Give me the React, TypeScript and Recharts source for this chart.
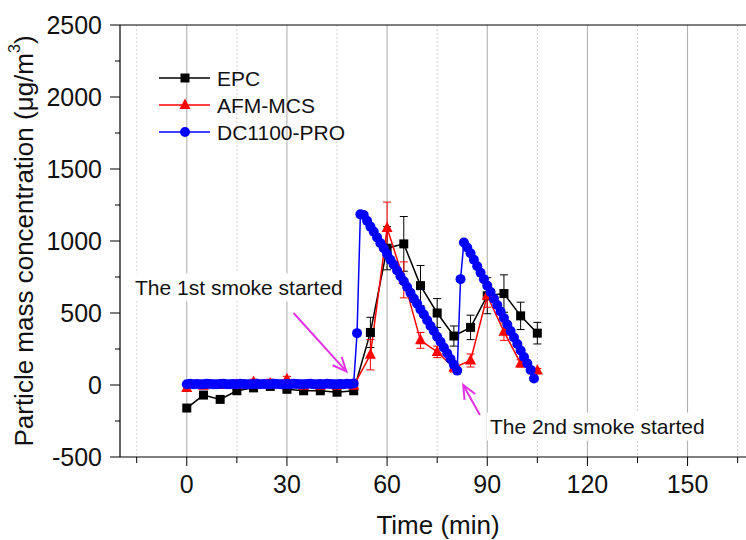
import { LineChart, Line, XAxis, YAxis, CartesianGrid, ErrorBar, ReferenceLine, ReferenceDot } from 'recharts';

// sampling times (min) for the EPC / AFM-MCS series
const TIME = [0, 5, 10, 15, 20, 25, 30, 35, 40, 45, 50, 55, 60, 65, 70, 75, 80, 85, 90, 95, 100, 105];
const EPC = [-160, -70, -100, -40, -20, -10, -30, -40, -40, -50, -40, 365, 950, 980, 690, 500, 340, 400, 620, 635, 480, 360];
const EPC_ERR = [20, 10, 10, 10, 10, 10, 10, 10, 10, 10, 10, 105, 150, 190, 140, 100, 70, 85, 125, 130, 95, 75];
const AFM = [-20, -5, 0, 0, 20, 10, 40, -5, -5, -5, -5, 210, 1090, 730, 310, 230, 120, 170, 620, 370, 150, 100];
const AFM_ERR = [20, 20, 20, 20, 20, 30, 20, 20, 20, 20, 20, 105, 180, 125, 55, 40, 30, 45, 80, 60, 25, 15];
// DC1100-PRO logs once a minute from t = 0
const DC1100 = [
  5, 8, 6, 7, 5, 6, 8, 7, 6, 5,
  7, 8, 6, 5, 7, 6, 8, 7, 5, 6,
  7, 8, 6, 7, 5, 6, 8, 7, 6, 5,
  7, 6, 8, 7, 5, 6, 7, 8, 6, 5,
  7, 6, 8, 7, 5, 6, 7, 6, 8, 7,
  10, 360, 1185, 1180, 1140, 1100, 1065, 1025, 985, 950,
  910, 870, 835, 795, 755, 720, 680, 640, 600, 565,
  525, 490, 450, 410, 375, 335, 300, 260, 220, 180,
  140, 100, 735, 990, 955, 915, 870, 825, 780, 735,
  690, 645, 600, 555, 510, 465, 420, 375, 330, 285,
  240, 195, 150, 105, 45,
];

const X_DOMAIN = [-20, 167.5];
const X_TICKS = [-15, 0, 15, 30, 45, 60, 75, 90, 105, 120, 135, 150, 165];
const X_MAJOR = [0, 30, 60, 90, 120, 150];
const X_MINOR = [-15, 15, 45, 75, 105, 135, 165];
const Y_TICKS = [-500, -250, 0, 250, 500, 750, 1000, 1250, 1500, 1750, 2000, 2250, 2500];

const epcData = TIME.map((t, i) => ({ t, v: EPC[i], err: EPC_ERR[i] }));
const afmData = TIME.map((t, i) => ({ t, v: AFM[i], err: AFM_ERR[i] }));
const dcData = DC1100.map((v, i) => ({ t: i, v }));

const FONT = '"Liberation Sans", Arial, sans-serif';
const MAGENTA = '#e233e2';

// grid lines at given x values, mapped over the plot area
const gridAt = (values: number[]) => ({ offset }: any) =>
  values.map((v) => offset.left + ((v - X_DOMAIN[0]) / (X_DOMAIN[1] - X_DOMAIN[0])) * offset.width);

const XTick = ({ x, y, payload, labels }: any) => {
  const major = payload.value % 30 === 0;
  return (
    <g>
      <line x1={x} x2={x} y1={y} y2={y + (major ? 9 : 6)} stroke="#000" />
      {labels && major && (
        <text x={x} y={y + 27} textAnchor="middle" dominantBaseline="central" fontSize={25} fontFamily={FONT} fill="#111">
          {payload.value}
        </text>
      )}
    </g>
  );
};

const YTick = ({ x, y, payload }: any) => {
  const major = payload.value % 500 === 0;
  return (
    <g>
      <line x1={x - (major ? 10 : 5)} x2={x} y1={y} y2={y} stroke="#000" />
      {major && (
        <text x={x - 18} y={y} textAnchor="end" dominantBaseline="central" fontSize={25} fontFamily={FONT} fill="#111">
          {payload.value}
        </text>
      )}
    </g>
  );
};

const Square = ({ cx, cy, index }: any) =>
  cx == null ? null : <rect key={index} x={cx - 4.5} y={cy - 4.5} width={9} height={9} fill="#000" />;
const Triangle = ({ cx, cy, index }: any) =>
  cx == null ? null : <polygon key={index} points={`${cx},${cy - 6.5} ${cx - 5.5},${cy + 4} ${cx + 5.5},${cy + 4}`} fill="#ff0000" />;
const Circle = ({ cx, cy, index }: any) =>
  cx == null ? null : <circle key={index} cx={cx} cy={cy} r={5} fill="#0000ff" />;

const Arrow = ({ x1, y1, x2, y2 }: any) => {
  const a = Math.atan2(y2 - y1, x2 - x1);
  const L = 15;
  const s = 0.42;
  const p1 = `${x2 - L * Math.cos(a - s)},${y2 - L * Math.sin(a - s)}`;
  const p2 = `${x2 - L * Math.cos(a + s)},${y2 - L * Math.sin(a + s)}`;
  return (
    <g>
      <line x1={x1} y1={y1} x2={x2} y2={y2} stroke={MAGENTA} strokeWidth={2} />
      <polyline points={`${p1} ${x2},${y2} ${p2}`} fill="none" stroke={MAGENTA} strokeWidth={2} />
    </g>
  );
};

const Note = ({ cx, cy, text, w }: any) => (
  <g>
    <rect x={cx - 3} y={cy - 14} width={w} height={28} fill="#fff" />
    <text x={cx} y={cy} dominantBaseline="central" fontSize={21} fontFamily={FONT} fill="#111">
      {text}
    </text>
  </g>
);

const LEGEND = [
  { name: 'EPC', color: '#000', marker: 'square' },
  { name: 'AFM-MCS', color: '#ff0000', marker: 'triangle' },
  { name: 'DC1100-PRO', color: '#0000ff', marker: 'circle' },
];

function LegendBox() {
  return (
    <svg width={240} height={100} style={{ position: 'absolute', left: 150, top: 60, pointerEvents: 'none' }}>
      {LEGEND.map((s, i) => {
        const y = 18 + i * 27;
        const cx = 35;
        return (
          <g key={s.name}>
            <line x1={9} x2={60} y1={y} y2={y} stroke={s.color} strokeWidth={1.5} />
            {s.marker === 'square' && <rect x={cx - 4.5} y={y - 4.5} width={9} height={9} fill={s.color} />}
            {s.marker === 'triangle' && <polygon points={`${cx},${y - 6.5} ${cx - 5.5},${y + 4} ${cx + 5.5},${y + 4}`} fill={s.color} />}
            {s.marker === 'circle' && <circle cx={cx} cy={y} r={5} fill={s.color} />}
            <text x={67} y={y} dominantBaseline="central" fontSize={21} fontFamily={FONT} fill="#111">
              {s.name}
            </text>
          </g>
        );
      })}
    </svg>
  );
}

export default function App() {
  return (
    <div style={{ position: 'absolute', left: 0, top: 0, width: 746, height: 540, background: '#fff' }}>
      <LineChart width={746} height={540} margin={{ top: 24, right: 0, bottom: 0, left: 0 }}>
        <CartesianGrid horizontal={false} stroke="#d2d2d2" strokeDasharray="2 2" verticalCoordinatesGenerator={gridAt(X_MINOR)} />
        <CartesianGrid horizontal={false} stroke="#aaaaaa" verticalCoordinatesGenerator={gridAt(X_MAJOR)} />
        <XAxis
          dataKey="t"
          type="number"
          domain={X_DOMAIN}
          allowDataOverflow
          ticks={X_TICKS}
          interval={0}
          tickSize={0}
          tickMargin={0}
          tickLine={false}
          tick={<XTick labels />}
          height={83}
          axisLine={{ stroke: '#000', strokeWidth: 1.2 }}
          label={{
            content: ({ viewBox }: any) => (
              <text x={viewBox.x + viewBox.width / 2 + 5} y={525} textAnchor="middle" dominantBaseline="central" fontSize={26} fontFamily={FONT} fill="#111">
                Time (min)
              </text>
            ),
          }}
        />
        <XAxis
          xAxisId="top"
          orientation="top"
          type="number"
          domain={X_DOMAIN}
          allowDataOverflow
          ticks={X_TICKS}
          interval={0}
          tickSize={0}
          tickMargin={0}
          tickLine={false}
          tick={<XTick />}
          height={1}
          axisLine={{ stroke: '#000', strokeWidth: 1.2 }}
        />
        <YAxis
          type="number"
          domain={[-500, 2500]}
          allowDataOverflow
          ticks={Y_TICKS}
          interval={0}
          tickSize={0}
          tickMargin={0}
          tickLine={false}
          tick={<YTick />}
          width={120}
          axisLine={{ stroke: '#000', strokeWidth: 1.2 }}
          label={{
            content: ({ viewBox }: any) => {
              const x = viewBox.x + 24;
              const y = viewBox.y + viewBox.height / 2;
              return (
                <text x={x} y={y} transform={`rotate(-90 ${x} ${y})`} textAnchor="middle" dominantBaseline="central" fontSize={26} fontFamily={FONT} fill="#111">
                  Particle mass concentration (μg/m
                  <tspan fontSize={16} dy={-10}>3</tspan>
                  <tspan dy={10}>)</tspan>
                </text>
              );
            },
          }}
        />
        <Line data={epcData} dataKey="v" name="EPC" stroke="#000" strokeWidth={1.5} dot={Square} activeDot={false} isAnimationActive={false}>
          <ErrorBar dataKey="err" direction="y" width={4} stroke="#000" strokeWidth={1} />
        </Line>
        <Line data={afmData} dataKey="v" name="AFM-MCS" stroke="#ff0000" strokeWidth={1.5} dot={Triangle} activeDot={false} isAnimationActive={false} />
        <Line data={dcData} dataKey="v" name="DC1100-PRO" stroke="#0000ff" strokeWidth={1.5} dot={Circle} activeDot={false} isAnimationActive={false} />
        {/* AFM-MCS error bars sit on top of the blue markers in the original */}
        <Line data={afmData} dataKey="v" stroke="none" dot={false} activeDot={false} legendType="none" isAnimationActive={false}>
          <ErrorBar dataKey="err" direction="y" width={4} stroke="#ff0000" strokeWidth={1} />
        </Line>
        <ReferenceLine segment={[{ x: 32, y: 500 }, { x: 47.8, y: 95 }]} shape={<Arrow />} />
        <ReferenceLine segment={[{ x: 87.8, y: -208 }, { x: 82.8, y: 0 }]} shape={<Arrow />} />
        <ReferenceDot x={-15.5} y={678} r={0} shape={(p: any) => <Note cx={p.cx} cy={p.cy} text="The 1st smoke started" w={218} />} />
        <ReferenceDot x={90.8} y={-289} r={0} shape={(p: any) => <Note cx={p.cx} cy={p.cy} text="The 2nd smoke started" w={222} />} />
      </LineChart>
      <LegendBox />
    </div>
  );
}
